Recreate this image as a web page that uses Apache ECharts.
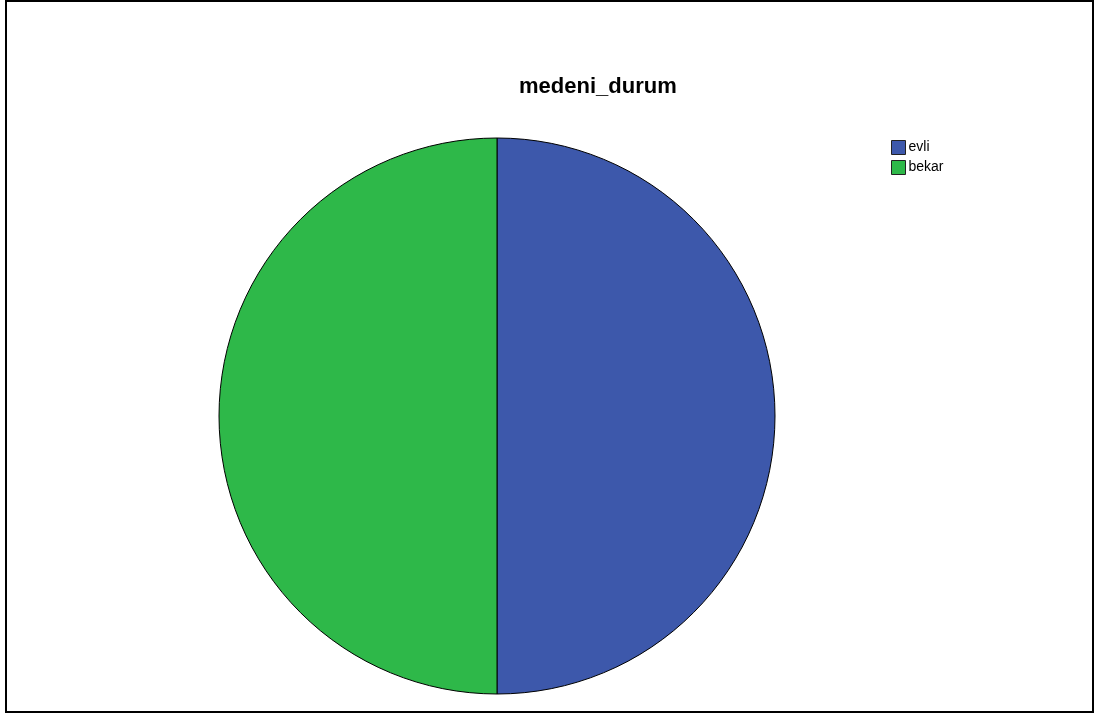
<!DOCTYPE html>
<html>
<head>
<meta charset="utf-8">
<script src="https://cdn.jsdelivr.net/npm/echarts@6/dist/echarts.min.js"></script>
<style>
  html, body { margin: 0; padding: 0; background: #ffffff; }
  #chart { width: 1097px; height: 715px; }
</style>
</head>
<body>
<div id="chart"></div>
<script>
// Marital status pie chart
const chartTitle = 'medeni_durum';
const categories = ['evli', 'bekar'];
const counts = [50, 50];
const sliceColors = ['#3d58ab', '#2eb849'];

const chart = echarts.init(document.getElementById('chart'), null, { renderer: 'canvas' });

chart.setOption({
  backgroundColor: '#ffffff',
  animation: false,
  title: {
    text: chartTitle,
    left: 514,
    top: 71,
    textStyle: {
      fontFamily: 'Liberation Sans, Arial, sans-serif',
      fontWeight: 'bold',
      fontSize: 22,
      color: '#000000'
    }
  },
  legend: {
    orient: 'vertical',
    left: 891,
    top: 140,
    padding: 0,
    itemWidth: 14,
    itemHeight: 14,
    itemGap: 5,
    icon: 'rect',
    data: categories,
    itemStyle: { borderColor: '#222222', borderWidth: 1 },
    textStyle: {
      fontFamily: 'Liberation Sans, Arial, sans-serif',
      fontSize: 14,
      color: '#000000',
      padding: [0, 0, 0, -2]
    }
  },
  graphic: [{
    type: 'rect',
    shape: { x: 6, y: 1, width: 1087, height: 711 },
    style: { fill: 'none', stroke: '#000000', lineWidth: 2 },
    silent: true
  }],
  series: [{
    type: 'pie',
    center: [497, 416],
    radius: 278,
    startAngle: 90,
    clockwise: true,
    label: { show: false },
    labelLine: { show: false },
    emphasis: { disabled: true },
    itemStyle: { borderColor: '#000000', borderWidth: 1 },
    data: categories.map((name, i) => ({
      name: name,
      value: counts[i],
      itemStyle: { color: sliceColors[i] }
    }))
  }]
});
</script>
</body>
</html>
